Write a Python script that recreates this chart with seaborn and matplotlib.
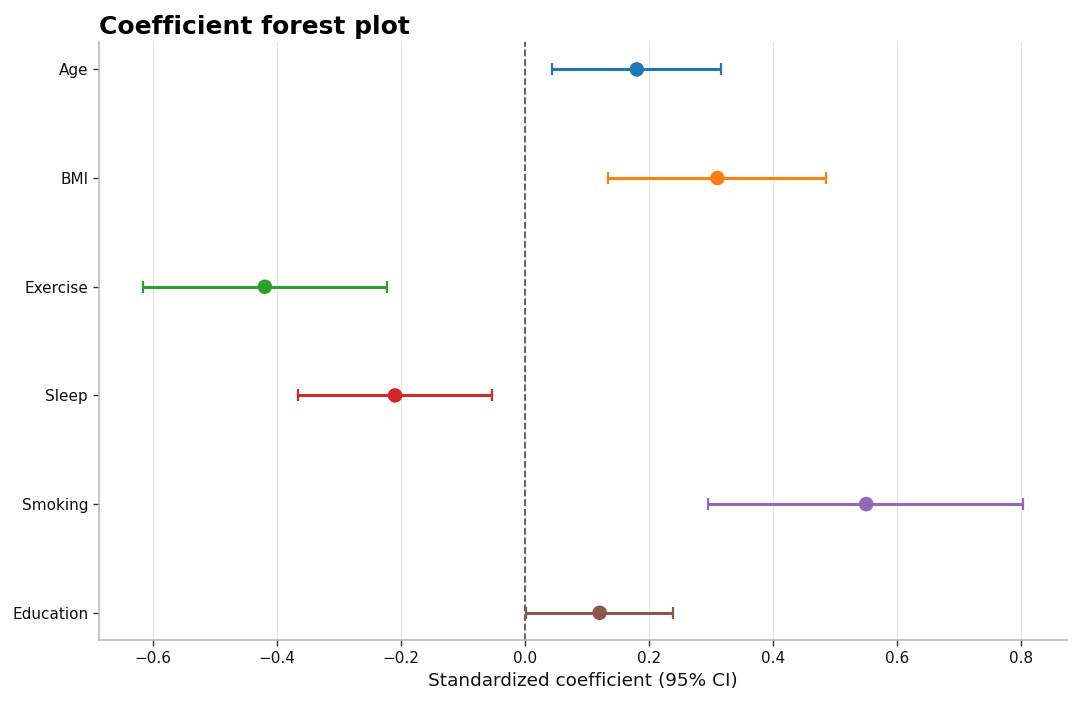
import matplotlib
matplotlib.use("Agg")
import matplotlib.pyplot as plt
import seaborn as sns
import pandas as pd

variables = ["Age", "BMI", "Exercise", "Sleep", "Smoking", "Education"]
coef = [0.18, 0.31, -0.42, -0.21, 0.55, 0.12]
ci_low = [0.043, 0.134, -0.616, -0.366, 0.295, 0.002]
ci_high = [0.316, 0.485, -0.223, -0.053, 0.803, 0.239]

df = pd.DataFrame({"variable": variables, "coef": coef,
                   "low": ci_low, "high": ci_high})

sns.set_theme(style="white")
plt.rcParams["font.family"] = ["DejaVu Sans"]
palette = sns.color_palette("tab10", len(variables))

fig, ax = plt.subplots(figsize=(10.8, 7.04), dpi=100)
fig.subplots_adjust(left=0.092, right=0.988, top=0.940, bottom=0.091)

# points via seaborn, CIs via errorbar on the categorical positions
sns.scatterplot(data=df, x="coef", y="variable", hue="variable",
                palette=palette, s=110, legend=False, zorder=4,
                edgecolor="none", ax=ax)
for i, row in df.iterrows():
    ax.errorbar(row["coef"], i,
                xerr=[[row["coef"] - row["low"]], [row["high"] - row["coef"]]],
                fmt="none", ecolor=palette[i], elinewidth=2.2,
                capsize=4, capthick=1.6, zorder=3)

ax.axvline(0, color="#555555", linestyle="--", linewidth=1.3, zorder=2)
ax.margins(x=0.05, y=0.05)
ax.set_ylim(len(variables) - 0.75, -0.25)

ax.grid(axis="x", color="#e6e6e6", linewidth=0.9)
ax.set_axisbelow(True)
sns.despine(ax=ax)
for side in ["left", "bottom"]:
    ax.spines[side].set_color("#bbbbbb")
    ax.spines[side].set_linewidth(1.2)
ax.tick_params(axis="both", length=4, width=1, color="#333333", pad=4,
               labelsize=11, labelcolor="#111111", left=True, bottom=True)

ax.set_xlabel("Standardized coefficient (95% CI)", fontsize=13.3, color="#111111")
ax.set_ylabel("")
ax.set_title("Coefficient forest plot", loc="left", fontsize=18,
             fontweight="bold", color="black", pad=6)

fig.savefig("out.png", dpi=100)
